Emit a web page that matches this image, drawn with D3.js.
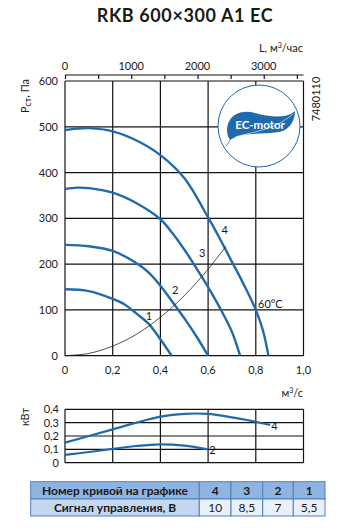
<!DOCTYPE html>
<html>
<head>
<meta charset="utf-8">
<script src="https://cdn.jsdelivr.net/npm/d3@7"></script>
<style>
  body { margin: 0; background: #fff; }
  text { font-family: Lato, "Open Sans", sans-serif; fill: #1a1a1a; }
</style>
</head>
<body>
<div id="chart"></div>
<script>
// Pressure curves, Q (m3/s) vs Pst (Pa)
let curve4 = [[0,493],[0.05,496],[0.1,497],[0.2,490],[0.3,470],[0.4,438],[0.5,388],[0.6,302],[0.65,255],[0.7,205],[0.75,155],[0.8,100],[0.83,55],[0.853,0]];
let curve3 = [[0,364],[0.05,367],[0.1,366],[0.2,356],[0.3,333],[0.4,298],[0.45,268],[0.5,232],[0.55,192],[0.6,150],[0.65,104],[0.7,52],[0.734,0]];
let curve2 = [[0,242],[0.1,239],[0.2,229],[0.3,202],[0.35,182],[0.4,153],[0.45,118],[0.5,82],[0.55,43],[0.6,0]];
let curve1 = [[0,145],[0.1,141],[0.2,124],[0.25,112],[0.3,92],[0.35,70],[0.4,36],[0.447,0]];
// system line
let sysCurve = [[0,0],[0.1,5],[0.2,21],[0.3,47],[0.4,84],[0.5,131],[0.6,189],[0.675,239]];
let curveLabels = [["1",0.352,78],["2",0.462,135],["3",0.575,215],["4",0.67,265]];

// Power curves, Q vs kW
let power4 = [[0,0.15],[0.1,0.2],[0.2,0.25],[0.3,0.3],[0.4,0.345],[0.5,0.366],[0.6,0.365],[0.7,0.34],[0.8,0.307],[0.86,0.282]];
let power2 = [[0,0.058],[0.1,0.08],[0.2,0.103],[0.3,0.125],[0.4,0.137],[0.5,0.128],[0.6,0.1]];

let xTicks = [0, 0.2, 0.4, 0.6, 0.8, 1.0];
let yTicks = [0, 100, 200, 300, 400, 500, 600];
let pTicks = [0, 0.1, 0.2, 0.3, 0.4];
let topTicks = [0, 500, 1000, 1500, 2000, 2500, 3000, 3500];
let topLabels = [0, 1000, 2000, 3000];

let tableHead = ["Номер кривой на графике", "4", "3", "2", "1"];
let tableRow = ["Сигнал управления, В", "10", "8,5", "7", "5,5"];

let width = 346, height = 530;
let blue = "#1f6aad";
let comma = d3.format(".1f");
let fmt = (d) => d === 0 ? "0" : comma(d).replace(".", ",");

let svg = d3.select("#chart").append("svg")
  .attr("width", width).attr("height", height);

// Scales
let x = d3.scaleLinear().domain([0, 1]).range([65, 303.5]);
let y = d3.scaleLinear().domain([0, 600]).range([355.7, 81]);
let xTop = d3.scaleLinear().domain([0, 3600]).range([65, 303.5]);
let yp = d3.scaleLinear().domain([0, 0.4]).range([462.7, 409.3]);

// Title
svg.append("text")
  .attr("x", 185).attr("y", 22)
  .attr("text-anchor", "middle")
  .style("font-size", "18px").style("font-weight", "bold")
  .style("letter-spacing", "0.6px")
  .text("RKB 600×300 A1 EC");

// Main grid
let grid = svg.append("g").attr("stroke", "#111").attr("stroke-width", 1.2).attr("fill", "none");
grid.selectAll(".v").data(xTicks).join("line")
  .attr("x1", (d) => x(d)).attr("x2", (d) => x(d))
  .attr("y1", y(0)).attr("y2", y(600));
grid.selectAll(".h").data(yTicks).join("line")
  .attr("class", "h")
  .attr("x1", x(0)).attr("x2", x(1))
  .attr("y1", (d) => y(d)).attr("y2", (d) => y(d));

// Top axis m3/h
let topAxis = d3.axisTop(xTop).tickValues(topTicks).tickSize(-4).tickFormat("");
let topEl = svg.append("g").attr("transform", "translate(0,75)").call(topAxis);
topEl.select(".domain").attr("d", "M" + x(0) + ",0H" + x(1)).attr("stroke", "#111").attr("stroke-width", 1.2);
topEl.selectAll(".tick line").attr("stroke", "#111").attr("stroke-width", 1.2);
svg.append("g").selectAll("text").data(topLabels).join("text")
  .attr("x", (d) => xTop(d)).attr("y", 70)
  .attr("text-anchor", "middle").style("font-size", "11px")
  .text((d) => d);
let lt = svg.append("text").attr("x", 303).attr("y", 52).attr("text-anchor", "end").style("font-size", "11px");
lt.append("tspan").text("L, м");
lt.append("tspan").attr("dy", -4).style("font-size", "7px").text("3");
lt.append("tspan").attr("dy", 4).text("/час");

// Bottom x labels
svg.append("g").selectAll("text").data(xTicks).join("text")
  .attr("x", (d) => x(d)).attr("y", 374)
  .attr("text-anchor", "middle").style("font-size", "11px")
  .text(fmt);
// Y labels
svg.append("g").selectAll("text").data(yTicks).join("text")
  .attr("x", 58).attr("y", (d) => y(d) + 4)
  .attr("text-anchor", "end").style("font-size", "11px")
  .text((d) => d);

let yl = svg.append("text").attr("transform", "translate(29,96) rotate(-90)")
  .attr("text-anchor", "middle").style("font-size", "11px");
yl.append("tspan").text("Р");
yl.append("tspan").attr("dy", 2).style("font-size", "9px").text("ст");
yl.append("tspan").attr("dy", -2).text(", Па");

svg.append("text").attr("transform", "translate(320,99) rotate(-90)")
  .attr("text-anchor", "middle").style("font-size", "11px").text("7480110");

// EC-motor logo
let logo = svg.append("g").attr("transform", "translate(259,126)");
logo.append("circle").attr("r", 41).attr("fill", "#fff").attr("stroke", blue).attr("stroke-width", 1);
logo.append("path")
  .attr("d", "M-29,14 C-33,8 -33,0 -29,-6 C-25,-13 -15,-16 -4,-13 C6,-10 16,-9 26,-10 C30,-11 34,-13 36,-15 C36,-6 31,4 20,6 C8,8 -6,7 -16,9 C-22,10 -26,12 -29,14 Z")
  .attr("fill", blue);
logo.append("path").attr("d", "M-29,14 C-30,16 -31,18 -33,20").attr("stroke", blue).attr("fill", "none").attr("stroke-width", 0.8);
logo.append("path").attr("d", "M-24,11 C-8,6 14,5 34,-12").attr("stroke", "#fff").attr("fill", "none").attr("stroke-width", 0.6);
logo.append("text").attr("x", 1).attr("y", 3).attr("text-anchor", "middle")
  .style("font-size", "11.5px").style("font-weight", "bold").style("fill", "#fff")
  .text("EC-motor");

// Curves
let curves = [curve4, curve3, curve2, curve1];
let lineCard = d3.line().x((d) => x(d[0])).y((d) => y(d[1])).curve(d3.curveCatmullRom);
svg.append("g").selectAll("path").data(curves).join("path")
  .attr("d", lineCard).attr("fill", "none")
  .attr("stroke", blue).attr("stroke-width", 2.4);
svg.append("path").datum(sysCurve).attr("d", lineCard)
  .attr("fill", "none").attr("stroke", "#222").attr("stroke-width", 0.8);
svg.append("g").selectAll("text").data(curveLabels).join("text")
  .attr("x", (d) => x(d[1])).attr("y", (d) => y(d[2]))
  .attr("text-anchor", "middle").style("font-size", "11px")
  .text((d) => d[0]);
svg.append("text").attr("x", 258).attr("y", 308).style("font-size", "11px").text("60°С");

// Power chart
let pg = svg.append("g").attr("stroke", "#111").attr("stroke-width", 1.2);
pg.selectAll(".v").data(xTicks).join("line")
  .attr("x1", (d) => x(d)).attr("x2", (d) => x(d))
  .attr("y1", yp(0)).attr("y2", yp(0.4));
pg.selectAll(".h").data(pTicks).join("line")
  .attr("class", "h")
  .attr("x1", x(0)).attr("x2", x(1))
  .attr("y1", (d) => yp(d)).attr("y2", (d) => yp(d));
svg.append("g").selectAll("text").data(pTicks).join("text")
  .attr("x", 59).attr("y", (d) => yp(d) + 4)
  .attr("text-anchor", "end").style("font-size", "11px")
  .text(fmt);
svg.append("text").attr("transform", "translate(29,417) rotate(-90)")
  .attr("text-anchor", "middle").style("font-size", "11px").text("кВт");
let ml = svg.append("text").attr("x", 303).attr("y", 397).attr("text-anchor", "end").style("font-size", "11px");
ml.append("tspan").text("м");
ml.append("tspan").attr("dy", -4).style("font-size", "7px").text("3");
ml.append("tspan").attr("dy", 4).text("/с");

let pline = d3.line().x((d) => x(d[0])).y((d) => yp(d[1])).curve(d3.curveCatmullRom);
svg.append("g").selectAll("path").data([power4, power2]).join("path")
  .attr("d", pline).attr("fill", "none").attr("stroke", blue).attr("stroke-width", 2.2);
svg.append("text").attr("x", x(0.865)).attr("y", yp(0.282) + 5).style("font-size", "11px").text("4");
svg.append("text").attr("x", x(0.605)).attr("y", yp(0.1) + 5).style("font-size", "11px").text("2");

// Table
let colX = [30.7, 199.3, 231, 262.7, 293.3, 325];
let rowY = [481.7, 499, 516];
let tbl = svg.append("g");
[tableHead, tableRow].forEach(function (row, ri) {
  row.forEach(function (cell, ci) {
    let fill = ri === 0 ? "#8fb4e2" : (ci === 0 ? "#c3d7f0" : "#e9f0fa");
    tbl.append("rect")
      .attr("x", colX[ci]).attr("y", rowY[ri])
      .attr("width", colX[ci + 1] - colX[ci]).attr("height", rowY[ri + 1] - rowY[ri])
      .attr("fill", fill).attr("stroke", "#4f81bd").attr("stroke-width", 1);
    tbl.append("text")
      .attr("x", (colX[ci] + colX[ci + 1]) / 2).attr("y", rowY[ri] + 13)
      .attr("text-anchor", "middle").style("font-size", "12px")
      .style("font-weight", ri === 0 || ci === 0 ? "bold" : "normal")
      .text(cell);
  });
});
</script>
</body>
</html>
